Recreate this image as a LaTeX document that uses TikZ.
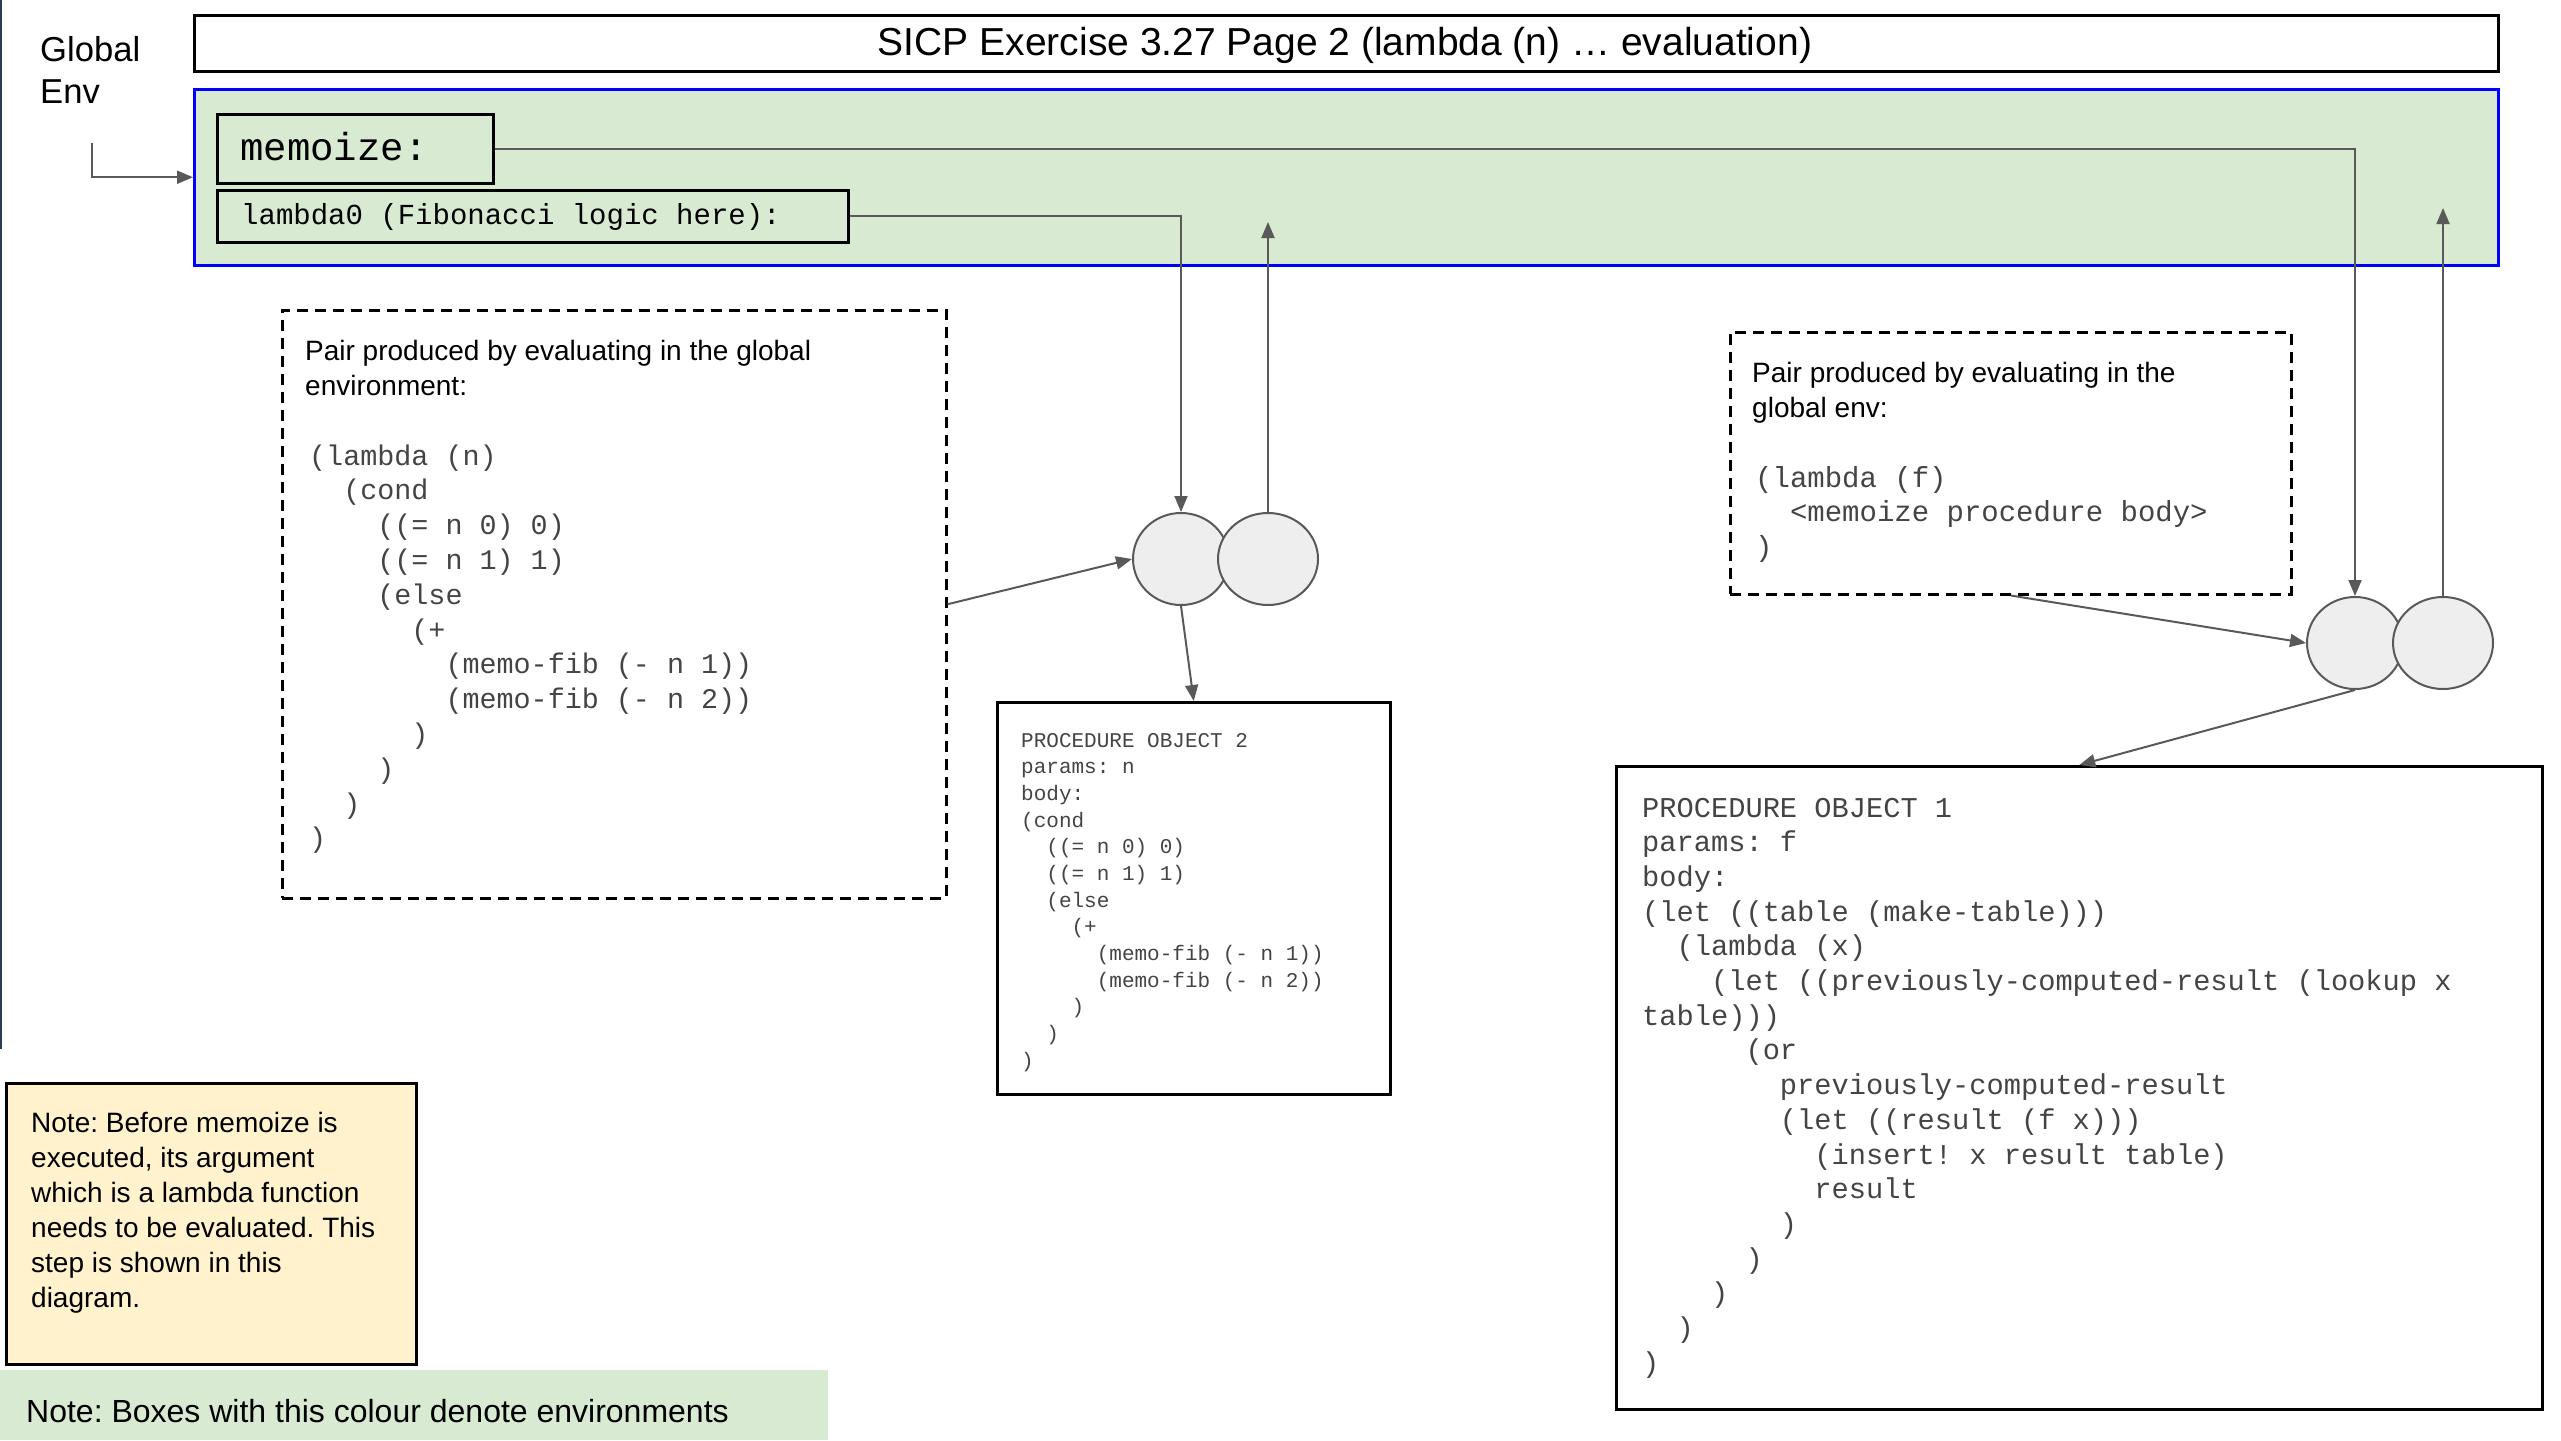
\documentclass[tikz,border=0pt]{standalone}
\usepackage{fontspec}
\setmainfont{Liberation Sans}
\newfontfamily\monof{Liberation Mono}
\usetikzlibrary{arrows.meta,shapes.geometric}
\frenchspacing

\definecolor{envgreen}{HTML}{D9EAD3}
\definecolor{noteyellow}{HTML}{FFF2CC}
\definecolor{connc}{HTML}{595959}
\definecolor{pairfill}{HTML}{EEEEEE}
\definecolor{codegray}{HTML}{444444}
\definecolor{edgeblue}{HTML}{2B3A55}
\definecolor{envblue}{HTML}{0000FF}

\newcommand\ii[1]{\kern\dimexpr #1em*6/10\relax}
\newcommand\Ln[1]{\hbox{#1}}
\newcommand\blk[2]{\vtop{\frenchspacing\baselineskip=#1pt\lineskiplimit=-1000pt\lineskip=0pt\relax #2}}

\tikzset{
  conn/.style={draw=connc, line width=2pt, -{Triangle[length=16pt,width=13pt]}},
  boxblack/.style={draw=black, line width=2.5pt, anchor=north west, inner sep=0pt},
  dashbox/.style={draw=black, line width=2.5pt, dash pattern=on 11pt off 7pt, anchor=north west, inner sep=0pt},
  pairc/.style={ellipse, draw=connc, line width=2pt, fill=pairfill, minimum height=92pt, inner sep=0pt},
  txt/.style={inner sep=0pt, anchor=base west},
  sanst/.style={txt, font=\fontsize{28}{35}\selectfont},
  codet/.style={txt, text=codegray, font=\monof\fontsize{28.4}{34.8}\selectfont},
}

\begin{document}
\begin{tikzpicture}[x=1pt, y=-1pt]
\useasboundingbox (0,0) rectangle (2561,1440);

% left edge line
\draw[edgeblue, line width=2pt] (1,0) -- (1,1049);

% Global Env label
\node[txt, font=\fontsize{34.6}{42}\selectfont] (genvlbl) at (40,61) {\blk{42}{\Ln{Global}\Ln{Env}}};
\coordinate (genv) at (92,143);

% title
\node[boxblack, minimum width=2304pt, minimum height=56pt] (title) at (193,14) {};
\node[inner sep=0pt, anchor=base, font=\fontsize{39}{45}\selectfont] (titletxt) at (1345,55) {SICP Exercise 3.27 Page 2 (lambda (n) … evaluation)};

% environment frame
\node[draw=envblue, fill=envgreen, line width=2.5pt, anchor=north west, inner sep=0pt, minimum width=2304pt, minimum height=176pt] (env) at (193,88) {};
\node[boxblack, fill=envgreen, minimum width=276pt, minimum height=69pt] (memo) at (216,113) {};
\node[txt, font=\monof\fontsize{39}{44}\selectfont] (memotxt) at (240,160) {memoize:};
\node[boxblack, fill=envgreen, minimum width=631pt, minimum height=52pt] (lam) at (216,189) {};
\node[txt, font=\monof\fontsize{29}{34}\selectfont] (lamtxt) at (241,224) {lambda0 (Fibonacci logic here):};

% dashed box 1
\node[dashbox, minimum width=664pt, minimum height=588pt] (d1) at (281,309) {};
\node[sanst] (d1head) at (305,360) {\blk{35}{\Ln{Pair produced by evaluating in the global}\Ln{environment:}}};
\node[codet] (d1code) at (309,465) {\blk{34.8}{%
\Ln{(lambda (n)}%
\Ln{\ii2(cond}%
\Ln{\ii4((= n 0) 0)}%
\Ln{\ii4((= n 1) 1)}%
\Ln{\ii4(else}%
\Ln{\ii6(+}%
\Ln{\ii8(memo-fib (- n 1))}%
\Ln{\ii8(memo-fib (- n 2))}%
\Ln{\ii6)}%
\Ln{\ii4)}%
\Ln{\ii2)}%
\Ln{)}}};

% dashed box 2
\node[dashbox, minimum width=561pt, minimum height=262pt] (d2) at (1729,331) {};
\node[sanst] (d2head) at (1752,382) {\blk{35}{\Ln{Pair produced by evaluating in the}\Ln{global env:}}};
\node[codet, font=\monof\fontsize{29}{34.7}\selectfont] (d2code) at (1755,487) {\blk{34.7}{%
\Ln{(lambda (f)}%
\Ln{\ii2<memoize procedure body>}%
\Ln{)}}};

% procedure object 2
\node[boxblack, minimum width=393pt, minimum height=392pt] (proc2) at (996,701) {};
\node[txt, text=codegray, font=\monof\fontsize{21}{26.67}\selectfont] (proc2txt) at (1021,747) {\blk{26.67}{%
\Ln{PROCEDURE OBJECT 2}%
\Ln{params: n}%
\Ln{body:}%
\Ln{(cond}%
\Ln{\ii2((= n 0) 0)}%
\Ln{\ii2((= n 1) 1)}%
\Ln{\ii2(else}%
\Ln{\ii4(+}%
\Ln{\ii6(memo-fib (- n 1))}%
\Ln{\ii6(memo-fib (- n 2))}%
\Ln{\ii4)}%
\Ln{\ii2)}%
\Ln{)}}};

% procedure object 1
\node[boxblack, minimum width=926pt, minimum height=643pt] (proc1) at (1615,765) {};
\node[txt, text=codegray, font=\monof\fontsize{28.7}{34.7}\selectfont] (proc1txt) at (1642,817) {\blk{34.7}{%
\Ln{PROCEDURE OBJECT 1}%
\Ln{params: f}%
\Ln{body:}%
\Ln{(let ((table (make-table)))}%
\Ln{\ii2(lambda (x)}%
\Ln{\ii4(let ((previously-computed-result (lookup x}%
\Ln{table)))}%
\Ln{\ii6(or}%
\Ln{\ii8previously-computed-result}%
\Ln{\ii8(let ((result (f x)))}%
\Ln{\ii{10}(insert! x result table)}%
\Ln{\ii{10}result}%
\Ln{\ii8)}%
\Ln{\ii6)}%
\Ln{\ii4)}%
\Ln{\ii2)}%
\Ln{)}}};

% pairs
\node[pairc, minimum width=96pt] (pl1) at (1181,559) {};
\node[pairc, minimum width=100pt] (pr1) at (1268,559) {};
\node[pairc, minimum width=96pt] (pl2) at (2355,643) {};
\node[pairc, minimum width=100pt] (pr2) at (2443,643) {};
\coordinate (up1) at (1268,222);
\coordinate (up2) at (2443,208);

% notes
\node[boxblack, fill=noteyellow, minimum width=410pt, minimum height=281pt] (note1) at (5,1082) {};
\node[sanst] (note1txt) at (31,1132) {\blk{35}{%
\Ln{Note: Before memoize is}%
\Ln{executed, its argument}%
\Ln{which is a lambda function}%
\Ln{needs to be evaluated. This}%
\Ln{step is shown in this}%
\Ln{diagram.}}};
\node[fill=envgreen, anchor=north west, inner sep=0pt, minimum width=828pt, minimum height=70pt] (note2) at (0,1370) {};
\node[txt, font=\fontsize{32}{38}\selectfont] (note2txt) at (26,1422) {Note: Boxes with this colour denote environments};

% connectors
\draw[conn] (genv) |- (env.west);
\draw[conn] (memo.east) -| (pl2.north);
\draw[conn] (lam.east) -| (pl1.north);
\draw[conn] (pr1.north) -- (up1);
\draw[conn] (pr2.north) -- (up2);
\draw[conn] (d1.east) -- (pl1.west);
\draw[conn] (pl1.south) -- (proc2.north);
\draw[conn] (d2.south) -- (pl2.west);
\draw[conn] (pl2.south) -- (proc1.north);
\end{tikzpicture}
\end{document}
